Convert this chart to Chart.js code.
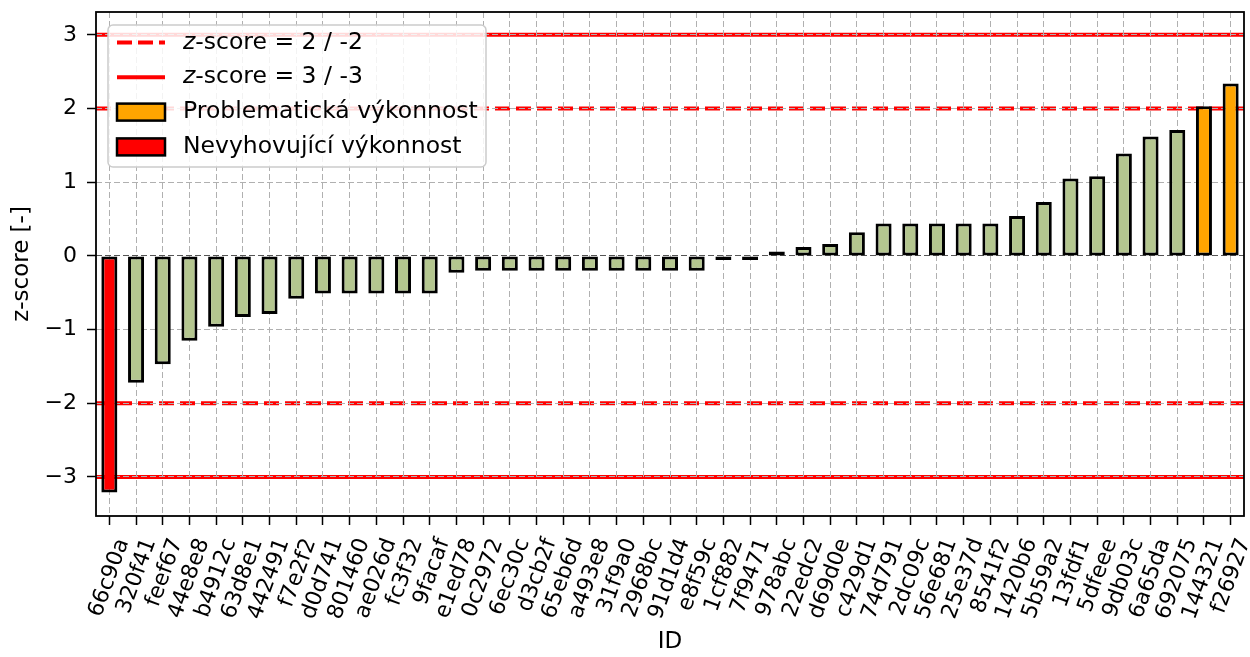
<!DOCTYPE html>
<html>
<head>
<meta charset="utf-8">
<title>z-score</title>
<script src="https://cdn.jsdelivr.net/npm/chart.js@4.4.0/dist/chart.umd.min.js"></script>
<style>
  html, body { margin: 0; padding: 0; background: #ffffff; }
</style>
</head>
<body>
<canvas id="myChart" width="1250" height="657"></canvas>
<script>
// data
var ids = ['66c90a', '320f41', 'feef67', '44e8e8', 'b4912c', '63d8e1', '442491', 'f7e2f2', 'd0d741', '801460',
  'ae026d', 'fc3f32', '9facaf', 'e1ed78', '0c2972', '6ec30c', 'd3cb2f', '65eb6d', 'a493e8', '31f9a0',
  '2968bc', '91d1d4', 'e8f59c', '1cf882', '7f9471', '978abc', '22edc2', 'd69d0e', 'c429d1', '74d791',
  '2dc09c', '56e681', '25e37d', '8541f2', '1420b6', '5b59a2', '13fdf1', '5dfeee', '9db03c', '6a65da',
  '692075', '144321', 'f26927'];
var zScores = [-3.21, -1.72, -1.47, -1.15, -0.96, -0.83, -0.79, -0.58, -0.51, -0.51,
  -0.51, -0.51, -0.51, -0.23, -0.20, -0.20, -0.20, -0.20, -0.20, -0.20,
  -0.20, -0.20, -0.20, -0.04, -0.01, 0.06, 0.12, 0.16, 0.32, 0.44,
  0.44, 0.44, 0.44, 0.44, 0.54, 0.73, 1.05, 1.08, 1.39, 1.62,
  1.71, 2.03, 2.34];
var yTicks = [-3, -2, -1, 0, 1, 2, 3];
var warnLevels = [2, -2];   // dashed
var failLevels = [3, -3];   // solid
var legendLabels = ['-score = 2 / -2', '-score = 3 / -3', 'Problematická výkonnost', 'Nevyhovující výkonnost'];

var FONT = 'DejaVu Sans';
var okColor = '#b4c68f';
var warnColor = '#ffa500';
var failColor = '#ff0000';

function barColor(v) { // colour by threshold
  var a = Math.abs(v);
  if (a >= 3) return failColor;
  if (a >= 2) return warnColor;
  return okColor;
}

// red threshold lines, drawn before the grid so the grid sits on top like in matplotlib
var refLines = {
  id: 'refLines',
  beforeDraw: function(chart) {
    var ctx = chart.ctx, area = chart.chartArea, y = chart.scales.y;
    ctx.save();
    ctx.beginPath();
    ctx.rect(area.left, area.top, area.right - area.left, area.bottom - area.top);
    ctx.clip();
    ctx.strokeStyle = failColor;
    ctx.lineWidth = 4;
    warnLevels.forEach(function(l) {
      ctx.setLineDash([15, 6]);
      ctx.beginPath();
      ctx.moveTo(area.left, y.getPixelForValue(l));
      ctx.lineTo(area.right, y.getPixelForValue(l));
      ctx.stroke();
    });
    failLevels.forEach(function(l) {
      ctx.setLineDash([]);
      ctx.beginPath();
      ctx.moveTo(area.left, y.getPixelForValue(l));
      ctx.lineTo(area.right, y.getPixelForValue(l));
      ctx.stroke();
    });
    ctx.restore();
  }
};

// black box round the axes + legend in the upper left corner
var frameAndLegend = {
  id: 'frameAndLegend',
  afterDraw: function(chart) {
    var ctx = chart.ctx, area = chart.chartArea;
    ctx.save();
    ctx.lineWidth = 1.8;
    ctx.strokeStyle = '#000';
    ctx.setLineDash([]);
    ctx.strokeRect(area.left, area.top, area.right - area.left, area.bottom - area.top);

    var x0 = area.left + 12, y0 = area.top + 13, w = 378, h = 142;
    ctx.beginPath();
    ctx.roundRect(x0, y0, w, h, 5);
    ctx.fillStyle = 'rgba(255,255,255,0.85)';
    ctx.fill();
    ctx.strokeStyle = '#cccccc';
    ctx.lineWidth = 1.5;
    ctx.stroke();

    ctx.textBaseline = 'middle';
    for (var i = 0; i < legendLabels.length; i++) {
      var cy = y0 + 17.5 + i * 34.8;
      var hx = x0 + 9, hw = 48;
      if (i < 2) {
        ctx.strokeStyle = failColor;
        ctx.lineWidth = 4;
        ctx.setLineDash(i == 0 ? [15, 6] : []);
        ctx.beginPath();
        ctx.moveTo(hx, cy);
        ctx.lineTo(hx + hw, cy);
        ctx.stroke();
        ctx.setLineDash([]);
      } else {
        ctx.fillStyle = i == 2 ? warnColor : failColor;
        ctx.fillRect(hx, cy - 8.5, hw, 17);
        ctx.strokeStyle = '#000';
        ctx.lineWidth = 2.5;
        ctx.strokeRect(hx, cy - 8.5, hw, 17);
      }
      var tx = x0 + 75;
      ctx.fillStyle = '#000';
      if (i < 2) { // italic z in front
        ctx.font = 'italic 23.5px "' + FONT + '"';
        ctx.fillText('z', tx, cy);
        tx += ctx.measureText('z').width;
      }
      ctx.font = '23.5px "' + FONT + '"';
      ctx.fillText(legendLabels[i], tx, cy);
    }
    ctx.restore();
  }
};

var ctx = document.getElementById('myChart').getContext('2d');
var zChart = new Chart(ctx, {
  type: 'bar',
  data: {
    labels: ids,
    datasets: [{
      label: 'z-score',
      data: zScores,
      backgroundColor: zScores.map(barColor),
      borderColor: '#000000',
      borderWidth: 3,
      borderSkipped: false,
      inflateAmount: 0,
      minBarLength: 4,
      barPercentage: 0.6,
      categoryPercentage: 1.0
    }]
  },
  options: {
    responsive: false,
    animation: false,
    devicePixelRatio: 1,
    layout: { padding: { top: 12, right: 6, left: 0, bottom: 0 } },
    plugins: {
      legend: { display: false },
      tooltip: { enabled: false }
    },
    scales: {
      x: {
        offset: true,
        grid: {
          offset: false,
          color: '#b0b0b0',
          lineWidth: 1,
          tickColor: '#000',
          tickWidth: 1.5,
          tickLength: 9,
          tickBorderDash: []
        },
        border: { display: false, dash: [6, 3] },
        ticks: {
          color: '#000',
          font: { family: FONT, size: 22 },
          minRotation: 70,
          maxRotation: 70,
          autoSkip: false,
          padding: 10,
          labelOffset: 14
        },
        title: {
          display: true,
          text: 'ID',
          color: '#000',
          font: { family: FONT, size: 23 },
          padding: { top: 0, bottom: 1 }
        },
        afterFit: function(s) {
          s.height = 141;
          s.paddingLeft = 0;
          s.paddingRight = 0;
        }
      },
      y: {
        min: -3.53,
        max: 3.31,
        afterBuildTicks: function(s) {
          s.ticks = yTicks.map(function(v) { return { value: v }; });
        },
        grid: {
          color: function(c) { return c.tick && c.tick.value === 0 ? '#555555' : '#b0b0b0'; },
          lineWidth: 1,
          tickColor: '#000',
          tickWidth: 1.5,
          tickLength: 9,
          tickBorderDash: []
        },
        border: { display: false, dash: [6, 3] },
        ticks: {
          color: '#000',
          font: { family: FONT, size: 22 },
          padding: 10,
          callback: function(v) { return String(v).replace('-', '\u2212'); }
        },
        title: {
          display: true,
          text: 'z-score [-]',
          color: '#000',
          font: { family: FONT, size: 23 },
          padding: { top: 8, bottom: 0 }
        },
        afterFit: function(s) {
          s.width = 96;
          s.paddingTop = 0;
          s.paddingBottom = 0;
        }
      }
    }
  },
  plugins: [refLines, frameAndLegend]
});
</script>
</body>
</html>
